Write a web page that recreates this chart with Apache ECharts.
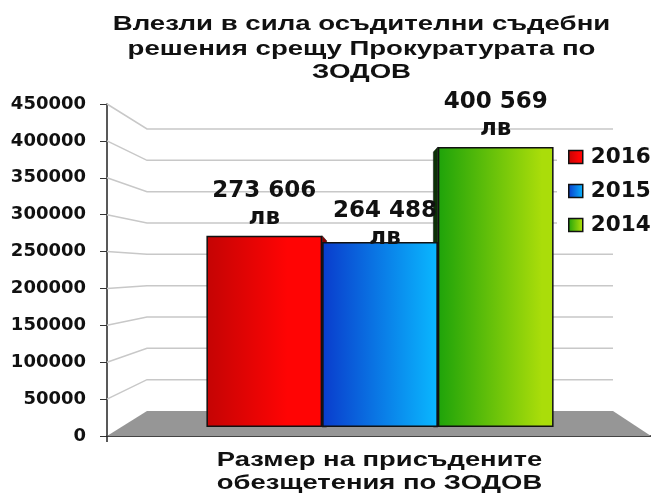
<!DOCTYPE html>
<html><head><meta charset="utf-8">
<style>html,body{margin:0;padding:0;background:#fff}#c{width:651px;height:494px}</style>
<script src="https://cdn.jsdelivr.net/npm/echarts@6/dist/echarts.min.js"></script>
</head><body><div id="c"></div>
<script>
var titleLines = ['Влезли в сила осъдителни съдебни','решения срещу Прокуратурата по','ЗОДОВ'];
var categoryLines = ['Размер на присъдените','обезщетения по ЗОДОВ'];
var seriesNames = ['2016','2015','2014'];
var seriesValues = [273606,264488,400569];
var valueLabels = ['273 606\nлв','264 488\nлв','400 569\nлв'];
var axisTicks = [0,50000,100000,150000,200000,250000,300000,350000,400000,450000];
var axisMax = 450000;
var gradients = [['#c40404','#ff0404',0.7],['#0a3ccc','#0ab8ff',1],['#1ea30a','#aadd0a',0.9]];
var sideColors = ['#8a0000',null,'#0c3006'];
var sideDirs = [1,0,-1];
var labelOffsets = [[0,3],[5,16],[0,3]];

var FONT = 'DejaVu Sans';
var STRETCH = 'Liberation Sans';
var BACK = {left:147,right:613,top:129,bottom:411};
var BAR_FRACTION = 0.745;
function backY(v){return BACK.bottom-(v/axisMax)*(BACK.bottom-BACK.top);}
function grad(c){return {type:'linear',x:0,y:0,x2:1,y2:0,colorStops:[{offset:0,color:c[0]},{offset:c[2],color:c[1]},{offset:1,color:c[1]}]};}
function stretched(text,x,y,size,sx){
  return {type:'text',x:x,y:y,scaleX:sx,z:10,silent:true,
    style:{text:text,fill:'#111',align:'center',verticalAlign:'middle',font:'bold '+size+'px "'+STRETCH+'"'}};
}

var chart = echarts.init(document.getElementById('c'),null,{renderer:'canvas'});
var barSeries = seriesNames.map(function(n,i){
  return {name:n,type:'bar',xAxisIndex:1,yAxisIndex:1,z:3,barGap:0,barCategoryGap:((1-BAR_FRACTION)*100)+'%',
    data:[seriesValues[i]],
    itemStyle:{color:grad(gradients[i]),borderColor:'#111',borderWidth:1.5},
    label:{show:true,position:'top',distance:7,offset:labelOffsets[i],formatter:valueLabels[i],
      fontFamily:FONT,fontWeight:'bold',fontSize:23,lineHeight:27,color:'#111'}};
});
chart.setOption({
  animation:false,
  backgroundColor:'#fff',
  legend:{orient:'vertical',left:557,top:146,data:seriesNames,icon:'rect',itemWidth:14,itemHeight:13,itemGap:12,
    backgroundColor:'#fff',padding:[0,0,0,11],
    textStyle:{fontFamily:FONT,fontWeight:'bold',fontSize:21.5,color:'#111',padding:[0,0,0,3]},
    itemStyle:{borderColor:'#111',borderWidth:1.5}},
  grid:[{left:107,top:104,right:0,height:332},{left:BACK.left,top:112.4,width:BACK.right-BACK.left,height:314.6}],
  xAxis:[
    {gridIndex:0,type:'value',min:0,max:1,axisLine:{show:true,onZero:false,lineStyle:{color:'#444',width:2}},axisTick:{show:false},axisLabel:{show:false},splitLine:{show:false}},
    {gridIndex:1,type:'category',data:[categoryLines.join(' ')],axisLine:{show:false},axisTick:{show:false},axisLabel:{show:false}}
  ],
  yAxis:[
    {gridIndex:0,type:'value',min:0,max:axisMax,interval:50000,
     axisLine:{show:true,onZero:false,lineStyle:{color:'#222',width:1.5}},
     axisTick:{show:true,length:7,lineStyle:{color:'#333',width:1}},
     axisLabel:{margin:21,fontFamily:FONT,fontWeight:'bold',fontSize:18,color:'#111',formatter:function(v){return String(v);}},splitLine:{show:false}},
    {gridIndex:1,type:'value',min:0,max:axisMax,show:false,splitLine:{show:false}}
  ],
  graphic:[
    stretched(titleLines[0],361.5,24,20,1.38),
    stretched(titleLines[1],361.5,49,20,1.38),
    stretched(titleLines[2],361.5,72,20,1.38),
    stretched(categoryLines[0],379.5,460,20,1.37),
    stretched(categoryLines[1],379.5,483,20,1.37)
  ],
  series:[
    {type:'custom',xAxisIndex:0,yAxisIndex:0,z:1,silent:true,data:[0],
     renderItem:function(p,api){
       var a=api.coord([0,0]),b=api.coord([1,0]);
       return {type:'group',children:[
         {type:'polygon',shape:{points:[a,[BACK.left,BACK.bottom],[BACK.right,BACK.bottom],b]},style:{fill:'#969696'}},
         {type:'line',shape:{x1:a[0],y1:a[1],x2:a[0],y2:a[1]+6},style:{stroke:'#222',lineWidth:1.5}}
       ]};
     }},
    {type:'custom',xAxisIndex:0,yAxisIndex:0,z:1,silent:true,data:axisTicks.slice(1),
     encode:{y:0},
     renderItem:function(p,api){
       var v=api.value(0),f=api.coord([0,v]);
       return {type:'polyline',shape:{points:[f,[BACK.left,backY(v)],[BACK.right,backY(v)]]},style:{stroke:'#c8c8c8',lineWidth:1.5,fill:null}};
     }},
    {type:'custom',xAxisIndex:1,yAxisIndex:1,z:2,silent:true,data:seriesValues.map(function(v,i){return [0,v,i];}),
     encode:{x:0,y:1},
     renderItem:function(p,api){
       var i=api.value(2),dir=sideDirs[i];
       if(!dir) return {type:'group',children:[]};
       var top=api.coord([0,api.value(1)]),base=api.coord([0,0]);
       var w=api.size([1,0])[0]*BAR_FRACTION/3;
       var edge=top[0]+(i-1)*w+dir*w/2;
       return {type:'polygon',shape:{points:[[edge,top[1]],[edge+dir*4.5,top[1]+5],[edge+dir*4.5,base[1]],[edge,base[1]]]},
         style:{fill:sideColors[i],stroke:'#111',lineWidth:0.5}};
     }}
  ].concat(barSeries)
});
</script></body></html>
